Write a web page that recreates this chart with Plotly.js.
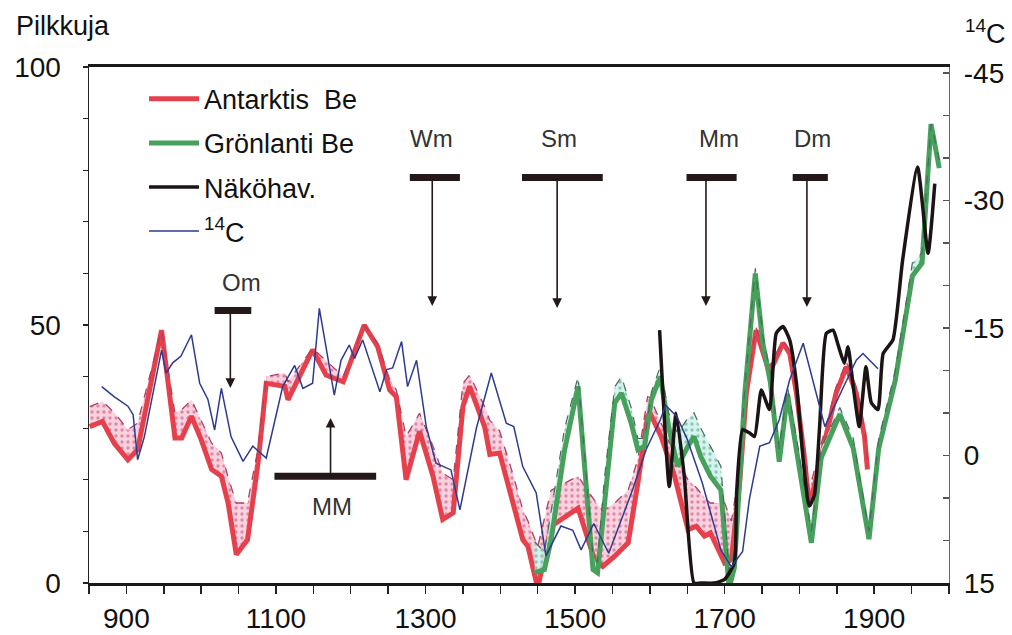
<!DOCTYPE html>
<html>
<head>
<meta charset="utf-8">
<script src="https://cdn.plot.ly/plotly-3.0.1.min.js"></script>
<style>html,body{margin:0;padding:0;background:#fff;}#chart{width:1012px;height:635px;}</style>
</head>
<body>
<div id="chart"></div>
<script>
// ---- Data ----
// Antarctic 10Be (left axis, "Pilkkuja")
const redYears = [851,868,884,902,915,947,965,974,987,1000,1014,1027,1036,1047,1062,1076,1087,1112,1116,1149,1167,1190,1218,1236,1252,1261,1274,1292,1310,1323,1337,1350,1359,1379,1386,1399,1417,1430,1437,1450,1468,1504,1526,1537,1553,1571,1584,1597,1600,1615,1633,1651,1662,1673,1681,1700,1709,1720,1729,1742,1760,1778,1787,1796,1807,1813,1822,1831,1849,1863,1876,1887,1891];
const redValues = [30.3,31.3,27,23.9,25.8,49.0,28.1,28.1,32.3,27.8,22.0,20.7,15.5,5.5,8.4,23.2,38.7,38.1,35.5,45.2,40.3,39.0,50.0,45.8,37.4,36.1,20.0,29.4,20.7,12.3,13.6,34.2,38.1,30.3,24.9,25.2,15.5,8.4,7.1,-1,11,14.5,4.5,3.2,5.2,7.8,19.4,32.3,33,28.4,20.7,10.3,11,9.1,9.7,3.9,4.5,19.4,36.8,49.0,40.7,46.5,44.5,36.8,23.9,14.9,20.0,25.8,36.8,41.9,36.8,28.4,22];
const redUpper = [34.2,35.2,33,29.7,31,49,32.9,33.6,35.5,31.6,27.1,25.2,20.5,15.5,15.5,26,40,40.7,39,45.5,43,40,50,46.5,39.5,37.4,28.4,32.9,26.5,21.3,20,38.7,40.3,34.2,31.5,29.5,21,14.2,12,7,18,20.7,16,14,15.5,18,24,36.1,36,31,25,20,18.5,16.5,15.5,15.5,12,22,38,49.5,42,47,45,38,26,18,23,28,38,43,38,30,24];

// Greenland 10Be (left axis)
const greenYears = [1446,1459,1468,1486,1504,1524,1530,1539,1553,1562,1575,1584,1593,1602,1614,1625,1637,1651,1659,1668,1681,1695,1706,1713,1727,1741,1751,1761,1773,1784,1795,1816,1829,1854,1872,1893,1906,1928,1951,1964,1976,1987];
const greenValues = [2.0,2.6,8.4,25.8,38.1,2.6,2.0,15.5,34.9,36.8,31,25.8,26.5,35.5,40,30.3,22.6,26.5,28.4,24.5,20.7,18,-1,3,36.8,60,46.5,39,23.5,36.6,27,7.8,24.2,32.7,26.1,8.5,26.1,39.2,59.5,62,88.9,80.4];
const greenUpper = [8,6,14,30,40,5,4,20,38,40,34,28,28,37,42,33,29,32,33,30,26.5,22.6,2,6,38,61,48,41,26,38,29,10,26,34,28,10,28,41,62,64,89,82];

// Sunspot observations (left axis)
const blackYears = [1613,1626,1635,1646,1659,1668,1686,1700,1713,1716,1724,1733,1740,1749,1760,1769,1778,1787,1796,1805,1813,1820,1827,1836,1845,1852,1860,1865,1872,1880,1889,1896,1905,1912,1925,1938,1958,1972,1981];
const blackValues = [49,18.7,32.9,20.7,0,0,0,0.7,3.9,17.5,29.7,29.1,28.4,37.4,33.6,48.4,49.7,47.1,38.7,23.9,14.9,17,30.3,48.4,49,46,42.6,45.8,38,30.3,41.9,35,33.6,44.5,47.1,62.6,80.6,63.9,77.4];

// 14C (right axis, reversed)
const blueYears = [867,884,902,909,915,924,947,953,962,973,987,998,1009,1018,1027,1040,1056,1069,1087,1109,1125,1136,1149,1158,1178,1187,1198,1205,1216,1239,1248,1256,1268,1276,1288,1301,1314,1334,1346,1368,1388,1408,1418,1430,1448,1461,1481,1497,1508,1525,1545,1577,1595,1614,1621,1636,1650,1670,1695,1709,1724,1733,1747,1760,1773,1787,1805,1834,1857,1876,1885,1905];
const blueValues = [-8.1,-6.9,-5.8,-4.8,0.5,-2.2,-12.4,-9.7,-10.9,-11.7,-14.2,-8.5,-6.6,-3.0,-7.9,-2.2,0.7,-1.1,0.3,-8.1,-10.6,-7.9,-8.5,-17.3,-7.1,-11.2,-13.0,-11.4,-13.6,-7.5,-10.1,-10.3,-13.4,-8.1,-11.2,-3.4,0.9,1.7,6.4,-3.2,-9.7,-3.8,-3.4,1.3,4.4,11.8,8.3,8.8,11.1,8.0,11.5,4.0,-0.7,-4.2,-5.9,-4.6,-1.9,3.2,11.1,13.1,11.3,5.2,-1.1,-1.5,-4.2,-8.9,-13.2,-3.4,-7.7,-11.2,-12.0,-10.2];

// Series names
const seriesNames = ['Antarktis  Be', 'Grönlanti Be', 'Näköhav.', '<sup>14</sup>C'];

// Tick labels
const xTickVals = [900, 1100, 1300, 1500, 1700, 1900];
const yTickVals = [0, 50, 100];
const y2TickVals = [-45, -30, -15, 0, 15];
const y2TickText = ['-45', '-30', '-15', '0', '15'];

// Solar minima labels
const minimaNames = ['Om', 'MM', 'Wm', 'Sm', 'Mm', 'Dm'];
const minimaStart = [1018, 1098, 1279, 1429, 1649, 1791];
const minimaEnd = [1067, 1234, 1346, 1537, 1716, 1838];
const minimaCenter = [1039, 1173, 1309, 1476, 1675, 1810];

// ---- Layout config (positions of minima markers) ----
const minimaLayout = [
  {barY: 52.8, tipY: 37.8, textX: 1054, textY: 58.3},
  {barY: 20.7, tipY: 32.0, textX: 1175, textY: 14.9},
  {barY: 78.6, tipY: 53.7, textX: 1308, textY: 86.2},
  {barY: 78.6, tipY: 53.3, textX: 1479, textY: 86.2},
  {barY: 78.6, tipY: 53.7, textX: 1692, textY: 86.2},
  {barY: 78.6, tipY: 53.5, textX: 1818, textY: 86.2}
];

const FONT = 'Liberation Sans, Arial, Helvetica, sans-serif';
const RED = '#e5404b', GREEN = '#47a05b', BLACK = '#1c1414', BLUE = '#2d3b8e';

const traces = [
  {x: redYears, y: redValues, name: seriesNames[0], type: 'scatter', mode: 'lines',
   line: {color: RED, width: 5}, legendgroup: 'a', xaxis: 'x', yaxis: 'y'},
  {x: redYears, y: redUpper, type: 'scatter', mode: 'lines', showlegend: false, hoverinfo: 'skip',
   line: {color: '#b04060', width: 1.3, dash: 'dash'}, fill: 'tonexty',
   fillcolor: 'rgba(248,200,215,0.85)',
   fillpattern: {shape: '.', bgcolor: 'rgba(249,205,220,0.9)', fgcolor: '#e088a5', size: 6, solidity: 0.25},
   legendgroup: 'a2'},
  {x: greenYears, y: greenValues, name: seriesNames[1], type: 'scatter', mode: 'lines',
   line: {color: GREEN, width: 5}, legendgroup: 'b'},
  {x: greenYears, y: greenUpper, type: 'scatter', mode: 'lines', showlegend: false, hoverinfo: 'skip',
   line: {color: '#4a6a60', width: 1.2, dash: 'dash'}, fill: 'tonexty',
   fillcolor: 'rgba(205,240,232,0.85)',
   fillpattern: {shape: '.', bgcolor: 'rgba(210,242,236,0.9)', fgcolor: '#8ac8b8', size: 6, solidity: 0.25},
   legendgroup: 'b2'},
  {x: blackYears, y: blackValues, name: seriesNames[2], type: 'scatter', mode: 'lines',
   line: {color: BLACK, width: 3.5, shape: 'spline', smoothing: 0.5}, legendgroup: 'c'},
  {x: blueYears, y: blueValues, name: seriesNames[3], type: 'scatter', mode: 'lines',
   line: {color: BLUE, width: 1.5}, legendgroup: 'd', yaxis: 'y2'}
];

const shapes = minimaNames.map((n, i) => ({
  type: 'line', xref: 'x', yref: 'y',
  x0: minimaStart[i], x1: minimaEnd[i], y0: minimaLayout[i].barY, y1: minimaLayout[i].barY,
  line: {color: '#241818', width: 7}
}));

const annotations = [];
minimaNames.forEach((n, i) => {
  const m = minimaLayout[i];
  annotations.push({
    xref: 'x', yref: 'y', axref: 'x', ayref: 'y',
    x: minimaCenter[i], y: m.tipY, ax: minimaCenter[i], ay: m.barY,
    text: '', showarrow: true, arrowhead: 2, arrowsize: 1.2, arrowwidth: 1.6, arrowcolor: '#241818'
  });
  annotations.push({
    xref: 'x', yref: 'y', x: m.textX, y: m.textY, text: n, showarrow: false,
    font: {family: FONT, size: 24, color: '#333'}, xanchor: 'center', yanchor: 'middle'
  });
});
annotations.push({xref: 'paper', yref: 'paper', x: -0.03, y: 1.08, text: 'Pilkkuja', showarrow: false,
  font: {family: FONT, size: 27, color: '#111'}, xanchor: 'center', yanchor: 'middle'});
annotations.push({xref: 'paper', yref: 'paper', x: 1.042, y: 1.067, text: '<sup>14</sup>C', showarrow: false,
  font: {family: FONT, size: 27, color: '#111'}, xanchor: 'center', yanchor: 'middle'});

const layout = {
  width: 1012, height: 635,
  margin: {l: 89, r: 63, t: 67, b: 52},
  paper_bgcolor: '#fff', plot_bgcolor: '#fff',
  font: {family: FONT, size: 28, color: '#111'},
  showlegend: true,
  legend: {x: 0.064, y: 0.985, xanchor: 'left', yanchor: 'top', bgcolor: 'rgba(0,0,0,0)',
           font: {family: FONT, size: 27, color: '#111'}, tracegroupgap: 6, traceorder: 'grouped', itemwidth: 50},
  xaxis: {range: [850, 2000], tickvals: xTickVals, ticks: 'outside', ticklen: 8, tickwidth: 1.5, tickcolor: '#222',
          minor: {dtick: 50, tick0: 850, ticks: 'outside', ticklen: 8, tickwidth: 1.5, tickcolor: '#222'},
          showline: true, linewidth: 3, linecolor: '#1a1a1a', mirror: true,
          showgrid: false, zeroline: false, tickfont: {size: 28}},
  yaxis: {range: [0, 100], tickvals: yTickVals, ticks: 'outside', ticklen: 5, tickwidth: 1.2, tickcolor: '#222',
          minor: {dtick: 10, ticks: 'outside', ticklen: 5, tickwidth: 1.2, tickcolor: '#222'},
          showline: true, linewidth: 1.5, linecolor: '#222', showgrid: false, zeroline: false,
          ticklabelstandoff: 16, tickfont: {size: 28}},
  yaxis2: {overlaying: 'y', side: 'right', range: [15, -45.7], tickvals: y2TickVals, ticktext: y2TickText,
           ticks: 'inside', ticklen: 6, tickwidth: 1.2, tickcolor: '#555',
           minor: {dtick: 5, ticks: 'inside', ticklen: 6, tickwidth: 1.2, tickcolor: '#555'},
           showline: true, linewidth: 1.2, linecolor: '#666', showgrid: false, zeroline: false,
           ticklabelstandoff: 8, tickfont: {size: 28}},
  shapes: shapes,
  annotations: annotations
};

Plotly.newPlot('chart', traces, layout, {displayModeBar: false, staticPlot: true});
</script>
</body>
</html>
